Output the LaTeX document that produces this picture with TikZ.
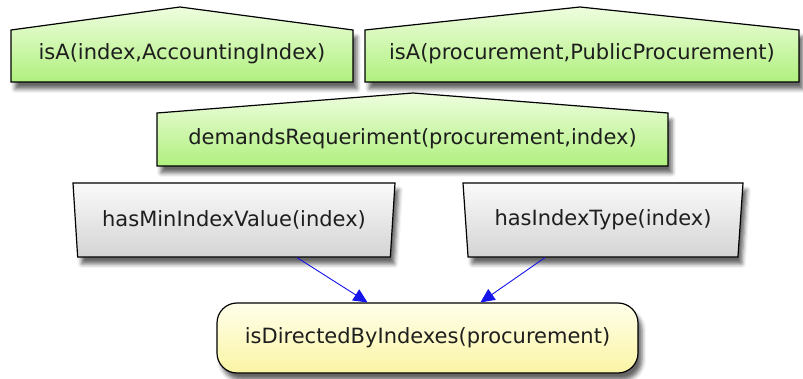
\documentclass[tikz,border=0pt]{standalone}
\usepackage{fontspec}
\setmainfont{DejaVu Sans}
\usetikzlibrary{shapes.geometric,arrows.meta,shadows.blur}
\definecolor{leafTop}{RGB}{238,253,222}
\definecolor{leafBot}{RGB}{176,240,126}
\definecolor{trapTop}{RGB}{250,250,250}
\definecolor{trapBot}{RGB}{212,212,212}
\definecolor{goalTop}{RGB}{255,255,234}
\definecolor{goalBot}{RGB}{250,244,164}
\definecolor{linkBlue}{RGB}{20,20,235}
\definecolor{ink}{RGB}{30,30,30}
\tikzset{
  txt/.style={font=\fontsize{21}{24}\selectfont,text=ink},
  boxshadow/.style={blur shadow={shadow xshift=4pt,shadow yshift=-7pt,shadow opacity=60,shadow blur radius=4pt}},
  roofshape/.style={draw,line width=1.2pt,top color=leafTop,bottom color=leafBot,boxshadow},
  trapbox/.style={txt,trapezium,shape border rotate=180,trapezium left angle=76,
    trapezium right angle=76,trapezium stretches body,minimum height=74pt,inner sep=0pt,
    draw,line width=1.2pt,top color=trapTop,bottom color=trapBot,boxshadow},
  goalbox/.style={txt,rectangle,rounded corners=20pt,minimum width=421pt,minimum height=70pt,
    draw,line width=1.2pt,top color=goalTop,bottom color=goalBot,boxshadow},
  flow/.style={draw=linkBlue,line width=0.9pt,-{Triangle[length=14pt,width=13pt]}}
}
\begin{document}
\begin{tikzpicture}[x=1pt,y=1pt]
  \useasboundingbox (0,0) rectangle (803,378);
  % facts
  \path[roofshape] (11,296) -- (11,348) -- (180,371) -- (353,348) -- (353,296) -- cycle;
  \path[roofshape] (365,296) -- (365,348) -- (580,371) -- (799,348) -- (799,296) -- cycle;
  \path[roofshape] (157,212) -- (157,265) -- (413,285) -- (668,265) -- (668,212) -- cycle;
  \node[txt] (isaIndex) at (182,324) {isA(index,AccountingIndex)};
  \node[txt] (isaProc) at (582,324) {isA(procurement,PublicProcurement)};
  \node[txt] (demands) at (412.5,239) {demandsRequeriment(procurement,index)};
  % conditions
  \node[trapbox,minimum width=322pt] (minValue) at (234,158) {hasMinIndexValue(index)};
  \node[trapbox,minimum width=280pt] (idxType) at (603,158) {hasIndexType(index)};
  % goal
  \node[goalbox] (directed) at (427.5,40) {isDirectedByIndexes(procurement)};
  \draw[flow] ([xshift=63pt]minValue.south) -- ([xshift=-60pt]directed.north);
  \draw[flow] ([xshift=-58pt]idxType.south) -- ([xshift=53pt]directed.north);
\end{tikzpicture}
\end{document}
